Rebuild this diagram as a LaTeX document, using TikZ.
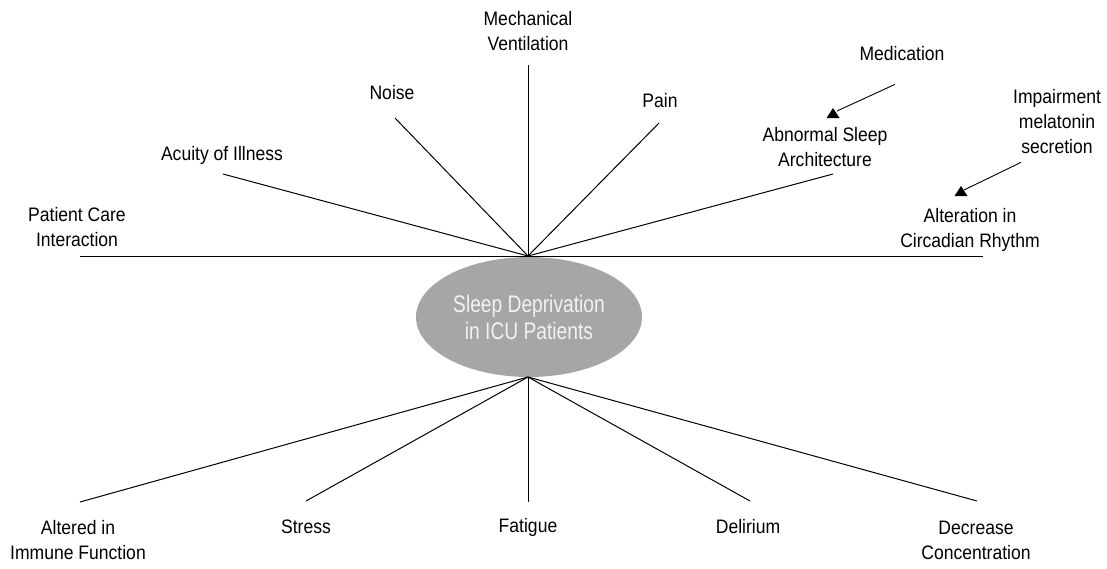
\documentclass[tikz,border=0pt]{standalone}
\usepackage{fontspec}
\setmainfont[FakeStretch=0.9]{Liberation Sans}
\newfontfamily\elfont[FakeStretch=0.8]{Liberation Sans}
\usetikzlibrary{shapes.geometric,calc}
\definecolor{ellgray}{HTML}{A6A6A6}
\definecolor{elltext}{HTML}{F2F2F2}
\begin{document}
\begin{tikzpicture}[x=1pt,y=-1pt,
  lbl/.style={align=center,inner sep=0pt,font=\fontsize{19.5pt}{25pt}\selectfont},
  spoke/.style={line width=1pt,black},
  ptr/.style={line width=0.9pt,black},
  tri/.style={fill=black}]
\useasboundingbox (0,0) rectangle (1107,568);

% central ellipse
\node[ellipse, fill=ellgray, minimum width=226pt, minimum height=120pt, inner sep=0pt,
      align=center, text=elltext, font=\elfont\fontsize{24pt}{27pt}\selectfont]
  (core) at (529,317) {Sleep Deprivation\\in ICU Patients};

% labels (top)
\node[lbl] (pat) at (77,227) {Patient Care\\Interaction};
\node[lbl] (acu) at (222,155) {Acuity of Illness};
\node[lbl] (noi) at (392,93) {Noise};
\node[lbl] (mec) at (528,31) {Mechanical\\Ventilation};
\node[lbl] (pai) at (660,101) {Pain};
\node[lbl] (med) at (902,54) {Medication};
\node[lbl] (abn) at (825,147) {Abnormal Sleep\\Architecture};
\node[lbl] (imp) at (1057,122) {Impairment\\melatonin\\secretion};
\node[lbl] (alt) at (970,230) {Alteration in\\Circadian Rhythm};

% labels (bottom)
\node[lbl] (imm) at (78,540) {Altered in\\Immune Function};
\node[lbl] (str) at (306,527) {Stress};
\node[lbl] (fat) at (528,527) {Fatigue};
\node[lbl] (del) at (748,527) {Delirium};
\node[lbl] (dec) at (976,540) {Decrease\\Concentration};

% spoke ends
\coordinate (ePat) at (80,256);
\coordinate (eAlt) at (983,256);
\coordinate (eAcu) at (223,174);
\coordinate (eNoi) at (395,118);
\coordinate (eMec) at (528,65);
\coordinate (ePai) at (659,123);
\coordinate (eAbn) at (833,174);
\coordinate (eImm) at (80,502);
\coordinate (eStr) at (306,501);
\coordinate (eFat) at (528,502);
\coordinate (eDel) at (750,501);
\coordinate (eDec) at (977,501);
\coordinate (th) at (528,256);
\coordinate (bh) at (528,377);

% top spokes
\draw[spoke] (ePat) -- (eAlt);
\foreach \e in {eAcu,eNoi,eMec,ePai,eAbn} \draw[spoke] (th) -- (\e);
% bottom spokes
\foreach \e in {eImm,eStr,eFat,eDel,eDec} \draw[spoke] (bh) -- (\e);

% pointer arrows
\coordinate (tMed) at (833,108);
\coordinate (tImp) at (961,186);
\draw[ptr] ($(med.south)+(-7,23)$) -- ($(tMed)+(4,3)$);
\fill[tri] (tMed) -- ++(6.5,10) -- ++(-13,0) -- cycle;
\draw[ptr] ($(imp.south)+(-36,8)$) -- ($(tImp)+(3,4)$);
\fill[tri] (tImp) -- ++(6.5,10) -- ++(-13,0) -- cycle;
\end{tikzpicture}
\end{document}
